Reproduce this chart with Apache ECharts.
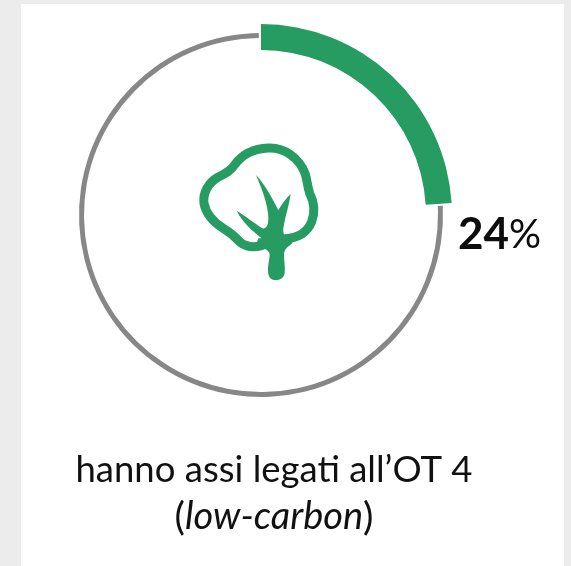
<!DOCTYPE html>
<html lang="en">

<head>
    <meta charset="UTF-8">
    <title>OT 4</title>
    <style>
        * {
            margin: 0;
            padding: 0;
        }

        body {
            background: #ececec;
        }

        #box {
            width: 571px;
            height: 566px;
        }
    </style>
</head>

<body>
    <div id="box"></div>

    <script src="https://cdn.jsdelivr.net/npm/echarts@6/dist/echarts.min.js"></script>
    <script>
        var shareNames = ['low-carbon', 'altri'];
        var shareValues = [24, 76];
        var captionLine1 = 'hanno assi legati all’OT 4';
        var captionLine2 = 'low-carbon';

        var GREEN = '#269b62';
        var GREY = '#878787';
        var FONT = 'Lato';

        // tree icon (3x units)
        var crownPath = 'M215 347 C195 352 170 352 152 338 C138 322 125 310 100 295 C70 276 48 252 42 220 C38 188 55 158 85 141 C105 131 122 123 135 103 C155 76 190 56 235 54 C285 52 328 85 345 130 C352 150 352 170 359 190 C372 215 376 245 365 275 C352 308 325 324 285 326';
        var trunkPath = 'M198 135 C225 165 245 200 265 241 C275 222 288 205 302 192 C298 225 285 260 280 295 C279 310 282 318 292 322 L308 338 C295 350 282 355 282 375 C282 392 286 410 284 428 C282 447 265 452 252 450 C238 448 233 435 234 415 C235 395 241 380 238 368 C230 355 215 354 195 354 L205 325 L215 325 C190 305 155 275 140 242 C165 258 195 280 217 295 C230 297 235 285 235 265 C235 225 215 175 198 135 Z';

        var chart = echarts.init(document.getElementById('box'));

        function ringData(color) {
            return shareValues.map(function (v, i) {
                return {
                    name: shareNames[i],
                    value: v,
                    itemStyle: { color: color[i] }
                };
            });
        }

        function drawTree() {
            return {
                type: 'group',
                x: 190,
                y: 130,
                scaleX: 1 / 3,
                scaleY: 1 / 3,
                children: [
                    {
                        type: 'path',
                        shape: { pathData: crownPath },
                        style: { fill: null, stroke: GREEN, lineWidth: 27, lineCap: 'round' }
                    },
                    {
                        type: 'path',
                        shape: { pathData: trunkPath },
                        style: { fill: GREEN }
                    }
                ]
            };
        }

        chart.setOption({
            animation: false,
            graphic: [
                {
                    type: 'rect',
                    z: -10,
                    silent: true,
                    shape: { x: 21, y: 4, width: 543, height: 562 },
                    style: { fill: '#fff' }
                },
                {
                    type: 'text',
                    x: 458,
                    y: 235,
                    style: {
                        text: '{b|' + shareValues[0] + '}{n|%}',
                        textVerticalAlign: 'middle',
                        rich: {
                            b: { font: 'bold 44px ' + FONT, fill: '#0d0d0d' },
                            n: { font: '40px ' + FONT, fill: '#0d0d0d' }
                        }
                    }
                },
                {
                    type: 'text',
                    x: 274,
                    y: 470,
                    style: {
                        text: captionLine1,
                        font: '36.5px ' + FONT,
                        fill: '#111',
                        textAlign: 'center',
                        textVerticalAlign: 'middle'
                    }
                },
                {
                    type: 'text',
                    x: 274,
                    y: 517,
                    style: {
                        text: '{p|(}{i|' + captionLine2 + '}{p|)}',
                        textAlign: 'center',
                        textVerticalAlign: 'middle',
                        rich: {
                            p: { font: '39px ' + FONT, fill: '#111' },
                            i: { font: 'italic 38px ' + FONT, fill: '#111' }
                        }
                    }
                }
            ],
            series: [
                {
                    type: 'pie',
                    silent: true,
                    center: [261, 215],
                    radius: [177, 182],
                    startAngle: 90,
                    padAngle: 1.4,
                    label: { show: false },
                    labelLine: { show: false },
                    data: ringData(['transparent', GREY])
                },
                {
                    type: 'pie',
                    silent: true,
                    center: [261, 215],
                    radius: [165, 191],
                    startAngle: 90,
                    label: { show: false },
                    labelLine: { show: false },
                    data: ringData([GREEN, 'transparent'])
                },
                {
                    type: 'custom',
                    coordinateSystem: 'none',
                    silent: true,
                    data: [[0]],
                    renderItem: drawTree
                }
            ]
        });
    </script>
</body>

</html>
